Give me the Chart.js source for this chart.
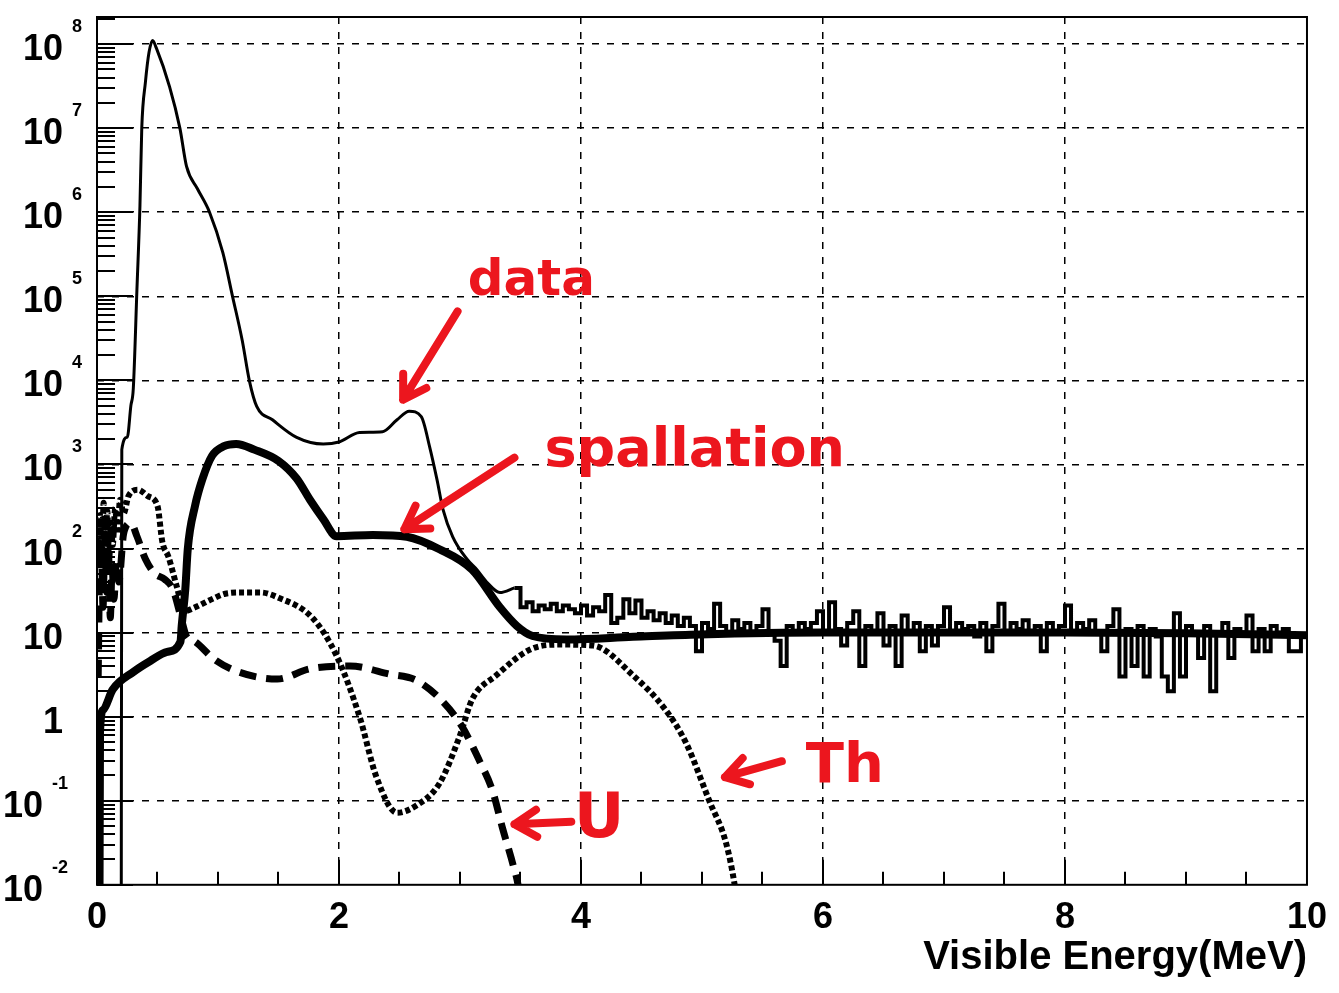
<!DOCTYPE html>
<html>
<head>
<meta charset="utf-8">
<script src="https://cdn.jsdelivr.net/npm/chart.js@4.4.0/dist/chart.umd.min.js"></script>
<style>
  html, body { margin: 0; padding: 0; background: #fff; }
  #wrap { width: 1339px; height: 993px; position: relative; }
</style>
</head>
<body>
<div id="wrap"><canvas id="spectrum"></canvas></div>
<script>
// ---- values ----
// data, smooth part (E in MeV, counts)
const dataE = [0.200, 0.205, 0.25, 0.28, 0.30, 0.33, 0.355, 0.37, 0.40, 0.43, 0.46, 0.49, 0.60, 0.685, 0.74, 0.83, 0.93, 1.04, 1.12, 1.20, 1.26, 1.32, 1.45, 1.65, 1.87, 2.00, 2.17, 2.36, 2.48, 2.58, 2.68, 2.75, 2.81, 2.86, 2.94, 3.06, 3.14, 3.22, 3.33, 3.45];
const dataV = [0.001, 1500, 2100, 5000, 8000, 1.2e5, 1.2e6, 1e7, 3.5e7, 8e7, 1.1e8, 9e7, 3.1e7, 1e7, 3.5e6, 1.9e6, 1e6, 3.3e5, 1e5, 3e4, 9.8e3, 4.9e3, 3.4e3, 2.1e3, 1.75e3, 1.85e3, 2.4e3, 2.45e3, 3.4e3, 4.3e3, 3.7e3, 1.6e3, 660, 290, 138, 74, 56, 40, 30, 34];

// data, histogram part: bins of 0.05 MeV from 3.45 to 10
const binStart = 3.45;
const binWidth = 0.05;
const binV = [
  34, 20, 23, 18, 21, 19, 22, 18, 21, 19,
  17, 21, 16, 20, 18, 28, 13, 15, 25, 17,
  24, 15, 18, 14, 17, 13, 16, 12, 15, 12,
  6, 13, 11, 22, 12, 10, 14, 11, 13, 10,
  12, 19, 10, 8, 4, 12, 10, 13, 11, 13,
  18, 10, 23, 11, 7, 13, 18, 4, 12, 10,
  17, 7, 12, 4, 16, 10, 13, 6, 12, 7,
  12, 20, 10, 13, 11, 12, 9, 13, 6, 12,
  22, 10, 13, 11, 14, 10, 12, 6, 13, 10,
  12, 21, 10, 13, 11, 14, 10, 6, 12, 19,
  3, 11, 4, 12, 3, 11, 9, 3, 2, 17,
  3, 12, 10, 5, 12, 2, 10, 13, 5, 11,
  10, 16, 6, 11, 6, 12, 10, 11, 6, 6,
  9
];

// spallation
const spE = [0.02, 0.025, 0.05, 0.13, 0.30, 0.44, 0.58, 0.69, 0.70, 0.73, 0.75, 0.81, 0.87, 0.95, 1.05, 1.15, 1.30, 1.50, 1.65, 1.76, 1.87, 1.98, 2.28, 2.56, 2.83, 3.10, 3.33, 3.47, 3.60, 3.88, 4.43, 4.98, 6.0, 7.0, 8.0, 9.0, 10.0];
const spV = [0.002, 0.66, 1.2, 2.1, 3.4, 4.6, 5.9, 7.8, 12, 33, 98, 320, 660, 1260, 1650, 1750, 1500, 1100, 680, 380, 224, 140, 145, 138, 98, 56, 20, 12, 9.1, 8.3, 8.9, 9.5, 10, 10, 10, 9.8, 9.3];

// Th (dotted)
const thE = [0.01, 0.025, 0.04, 0.055, 0.07, 0.085, 0.10, 0.115, 0.13, 0.15, 0.17, 0.19, 0.22, 0.26, 0.34, 0.42, 0.50, 0.54, 0.59, 0.66, 0.72, 0.81, 0.95, 1.06, 1.20, 1.35, 1.50, 1.78, 1.98, 2.17, 2.31, 2.48, 2.64, 2.83, 3.00, 3.10, 3.30, 3.58, 3.82, 4.10, 4.43, 4.70, 4.87, 5.06, 5.20, 5.27, 5.32];
const thV = [60, 250, 90, 350, 120, 280, 70, 200, 110, 300, 150, 380, 260, 420, 500, 420, 320, 120, 80, 35, 18, 20, 25, 29, 30, 30, 26, 15, 5.3, 1.0, 0.19, 0.072, 0.088, 0.16, 0.6, 1.6, 3.1, 6.3, 7.2, 7.0, 3.1, 1.2, 0.48, 0.1, 0.031, 0.01, 0.003];

// U (dashed)
const uE = [0.01, 0.02, 0.035, 0.05, 0.065, 0.08, 0.095, 0.11, 0.125, 0.14, 0.16, 0.18, 0.22, 0.28, 0.33, 0.40, 0.48, 0.56, 0.63, 0.70, 0.74, 0.81, 0.97, 1.17, 1.49, 1.76, 2.09, 2.42, 2.64, 2.86, 3.02, 3.16, 3.27, 3.35, 3.44, 3.48, 3.52];
const uV = [3, 40, 120, 20, 150, 30, 90, 15, 60, 25, 70, 40, 150, 200, 140, 75, 50, 43, 32, 14, 9, 7.8, 4.8, 3.4, 2.8, 3.7, 4, 3.2, 2.7, 1.5, 0.75, 0.3, 0.13, 0.048, 0.017, 0.01, 0.004];

// axes
const xMin = 0, xMax = 10, xStep = 2, xMinorStep = 0.5;
const yMin = 0.01, yMax = 2.1e8;
const yDecades = [-2, -1, 0, 1, 2, 3, 4, 5, 6, 7, 8];
const xTitle = "Visible Energy(MeV)";

// hand-written labels (position in MeV / counts)
const notes = [
  { text: "data",       x: 3.59, y: Math.pow(10, 5.17),  size: 50 },
  { text: "spallation", x: 4.94, y: Math.pow(10, 3.15),  size: 54 },
  { text: "U",          x: 4.15, y: Math.pow(10, -1.24), size: 62 },
  { text: "Th",         x: 6.18, y: Math.pow(10, -0.60), size: 56 }
];
const arrows = [
  { x1: 2.98, y1: Math.pow(10, 4.82),  x2: 2.53, y2: Math.pow(10, 3.77) },
  { x1: 3.45, y1: Math.pow(10, 3.08),  x2: 2.54, y2: Math.pow(10, 2.23) },
  { x1: 3.92, y1: Math.pow(10, -1.25), x2: 3.45, y2: Math.pow(10, -1.28) },
  { x1: 5.66, y1: Math.pow(10, -0.53), x2: 5.19, y2: Math.pow(10, -0.72) }
];

const pts = (xs, ys) => xs.map((e, i) => ({ x: e, y: ys[i] }));
const binPts = binV.map((v, i) => ({ x: binStart + i * binWidth, y: v }));
binPts.push({ x: xMax, y: binV[binV.length - 1] });

const FONT = '"Liberation Sans", Arial, Helvetica, sans-serif';
const RED = 'rgb(236, 22, 30)';

const framePlugin = {
    id: 'frame',
    afterDatasetsDraw(chart) {
        const { ctx, chartArea: a, scales: { x, y } } = chart;
        ctx.save();
        ctx.strokeStyle = '#000';
        ctx.lineWidth = 2;
        ctx.strokeRect(a.left, a.top, a.right - a.left, a.bottom - a.top);

        // inward ticks on the log axis
        ctx.beginPath();
        yDecades.forEach(e => {
            for (let m = 1; m <= 9; m++) {
                const v = m * Math.pow(10, e);
                if (v < yMin || v > yMax) continue;
                const py = Math.round(y.getPixelForValue(v));
                ctx.moveTo(a.left, py);
                ctx.lineTo(a.left + (m === 1 ? 36 : 18), py);
            }
        });
        // inward ticks on the energy axis
        for (let e = xMin + xMinorStep; e < xMax; e += xMinorStep) {
            const px = Math.round(x.getPixelForValue(e));
            const major = Math.abs(e / xStep - Math.round(e / xStep)) < 1e-6;
            ctx.moveTo(px, a.bottom);
            ctx.lineTo(px, a.bottom - (major ? 25 : 13));
        }
        ctx.stroke();
        ctx.restore();
    },
    afterDraw(chart) {
        const { ctx, chartArea: a, scales: { x, y } } = chart;
        ctx.save();
        ctx.fillStyle = '#000';
        ctx.textBaseline = 'alphabetic';
        yDecades.forEach(e => {
            const py = y.getPixelForValue(Math.pow(10, e));
            const right = e < 0 ? 43 : 63;
            ctx.font = 'bold 36px ' + FONT;
            ctx.textAlign = 'right';
            ctx.fillText(e === 0 ? '1' : '10', right, py + 16);
            if (e !== 0 && e !== 1) {
                ctx.font = 'bold 18px ' + FONT;
                ctx.textAlign = 'left';
                ctx.fillText(String(e), right + 9, py - 12);
            }
        });

        // red notes
        ctx.fillStyle = RED;
        ctx.strokeStyle = RED;
        ctx.textAlign = 'center';
        ctx.textBaseline = 'middle';
        notes.forEach(n => {
            ctx.font = 'bold ' + n.size + 'px "DejaVu Sans", sans-serif';
            ctx.fillText(n.text, x.getPixelForValue(n.x), y.getPixelForValue(n.y));
        });
        ctx.lineWidth = 8;
        ctx.lineCap = 'round';
        ctx.lineJoin = 'round';
        arrows.forEach(r => {
            const x1 = x.getPixelForValue(r.x1), y1 = y.getPixelForValue(r.y1);
            const x2 = x.getPixelForValue(r.x2), y2 = y.getPixelForValue(r.y2);
            const ang = Math.atan2(y2 - y1, x2 - x1);
            const head = 26;
            ctx.beginPath();
            ctx.moveTo(x1, y1);
            ctx.lineTo(x2, y2);
            ctx.moveTo(x2 - head * Math.cos(ang - 0.55), y2 - head * Math.sin(ang - 0.55));
            ctx.lineTo(x2, y2);
            ctx.lineTo(x2 - head * Math.cos(ang + 0.55), y2 - head * Math.sin(ang + 0.55));
            ctx.stroke();
        });
        ctx.restore();
    }
};

function drawSpectrum() {
    const ctx = document.getElementById("spectrum").getContext("2d");

    new Chart(ctx, {
        type: "line",
        data: {
            datasets: [
                {
                    label: "Th",
                    data: pts(thE, thV),
                    borderColor: "#000",
                    borderWidth: 6,
                    borderDash: [5, 3],
                    borderCapStyle: "butt",
                    cubicInterpolationMode: "monotone",
                    pointRadius: 0
                },
                {
                    label: "U",
                    data: pts(uE, uV),
                    borderColor: "#000",
                    borderWidth: 7,
                    borderDash: [17, 10],
                    borderCapStyle: "butt",
                    cubicInterpolationMode: "monotone",
                    pointRadius: 0
                },
                {
                    label: "spallation",
                    data: pts(spE, spV),
                    borderColor: "#000",
                    borderWidth: 8,
                    cubicInterpolationMode: "monotone",
                    pointRadius: 0
                },
                {
                    label: "data",
                    data: pts(dataE, dataV),
                    borderColor: "#000",
                    borderWidth: 3,
                    cubicInterpolationMode: "monotone",
                    pointRadius: 0
                },
                {
                    label: "data",
                    data: binPts,
                    borderColor: "#000",
                    borderWidth: 4,
                    stepped: true,
                    pointRadius: 0
                }
            ]
        },
        options: {
            responsive: true,
            maintainAspectRatio: false,
            animation: false,
            layout: { padding: { left: 97, top: 17, right: 31, bottom: 0 } },
            scales: {
                x: {
                    type: "linear",
                    min: xMin,
                    max: xMax,
                    ticks: {
                        stepSize: xStep,
                        color: "#000",
                        font: { size: 36, weight: "bold", family: FONT },
                        padding: 12,
                        maxRotation: 0,
                        autoSkip: false
                    },
                    grid: {
                        drawTicks: false,
                        lineWidth: 1.5,
                        color: c => (c.tick && (c.tick.value === xMin || c.tick.value === xMax)) ? "rgba(0,0,0,0)" : "#000"
                    },
                    border: { display: false, dash: [7, 8] },
                    title: {
                        display: true,
                        text: xTitle,
                        align: "end",
                        color: "#000",
                        font: { size: 40, weight: "bold", family: FONT, lineHeight: 1 },
                        padding: { top: -14, bottom: 15 }
                    }
                },
                y: {
                    type: "logarithmic",
                    min: yMin,
                    max: yMax,
                    afterBuildTicks: s => { s.ticks = yDecades.map(e => ({ value: Math.pow(10, e) })); },
                    ticks: { display: false },
                    grid: {
                        drawTicks: false,
                        lineWidth: 1.5,
                        color: c => (c.tick && c.tick.value <= yMin) ? "rgba(0,0,0,0)" : "#000"
                    },
                    border: { display: false, dash: [7, 8] }
                }
            },
            plugins: {
                legend: { display: false },
                tooltip: { enabled: false }
            }
        },
        plugins: [framePlugin]
    });
}

drawSpectrum();
</script>
</body>
</html>
